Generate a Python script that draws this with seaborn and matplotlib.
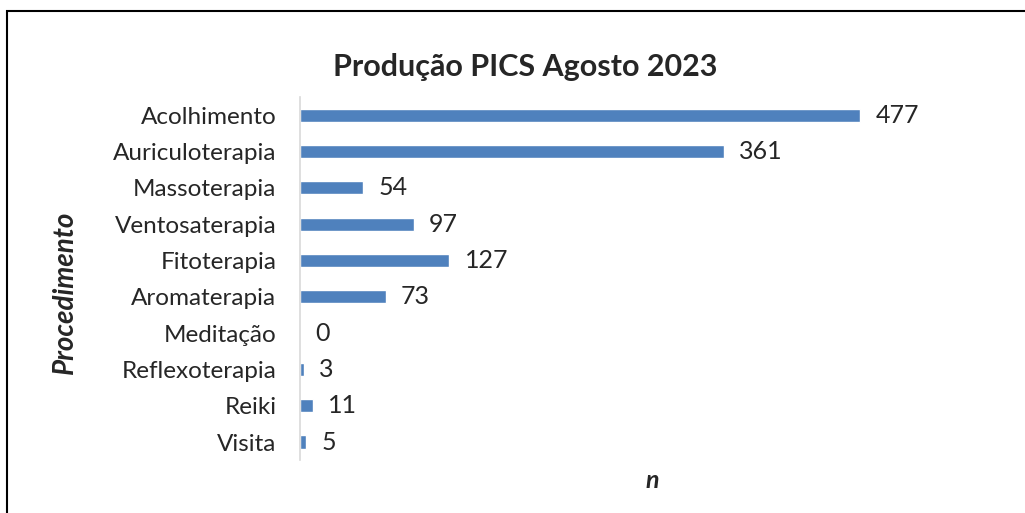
import matplotlib
matplotlib.use("Agg")
import matplotlib.pyplot as plt
import seaborn as sns
import pandas as pd
from matplotlib.patches import Rectangle


# ============================================================
# DATA
# ============================================================

procedimentos = [
    "Acolhimento",
    "Auriculoterapia",
    "Massoterapia",
    "Ventosaterapia",
    "Fitoterapia",
    "Aromaterapia",
    "Meditação",
    "Reflexoterapia",
    "Reiki",
    "Visita",
]

quantidades = [477, 361, 54, 97, 127, 73, 0, 3, 11, 5]


# ============================================================
# CHART
# Produção PICS Agosto 2023
# ============================================================

df = pd.DataFrame({"procedimento": procedimentos, "n": quantidades})

sns.set_style("white")
plt.rcParams["font.family"] = ["Lato", "DejaVu Sans"]

fig = plt.figure(figsize=(10.25, 5.13), dpi=100)
ax = fig.add_axes([0.2927, 0.103, 0.573, 0.708])

sns.barplot(
    data=df,
    x="n",
    y="procedimento",
    color="#4F81BD",
    width=0.36,
    saturation=1,
    ax=ax
)

ax.set_xlim(0, 500)
ax.set_xticks([])

for c in ax.containers:
    ax.bar_label(c, padding=11, fontsize=18)

ax.tick_params(axis="y", length=0, labelsize=17.5, pad=17)

for side in ["top", "right", "bottom"]:
    ax.spines[side].set_visible(False)
ax.spines["left"].set_color("#D9D9D9")
ax.spines["left"].set_linewidth(1.2)

ax.set_ylabel("")
ax.set_xlabel("")

fig.text(
    0.512, 0.87, "Produção PICS Agosto 2023",
    ha="center", va="center",
    fontsize=22, fontweight="bold"
)

fig.text(
    0.063, 0.431, "Procedimento",
    rotation=90, ha="center", va="center",
    fontsize=20, fontweight="bold", style="italic"
)

fig.text(
    0.636, 0.064, "n",
    ha="center", va="center",
    fontsize=18, fontweight="bold", style="italic"
)

# outer frame
fig.patches.append(
    Rectangle(
        (0.0068, -0.1), 1.2, 1.0786,
        transform=fig.transFigure,
        fill=False, edgecolor="black", linewidth=1.5
    )
)

plt.savefig("out.png", dpi=100)
plt.close()
